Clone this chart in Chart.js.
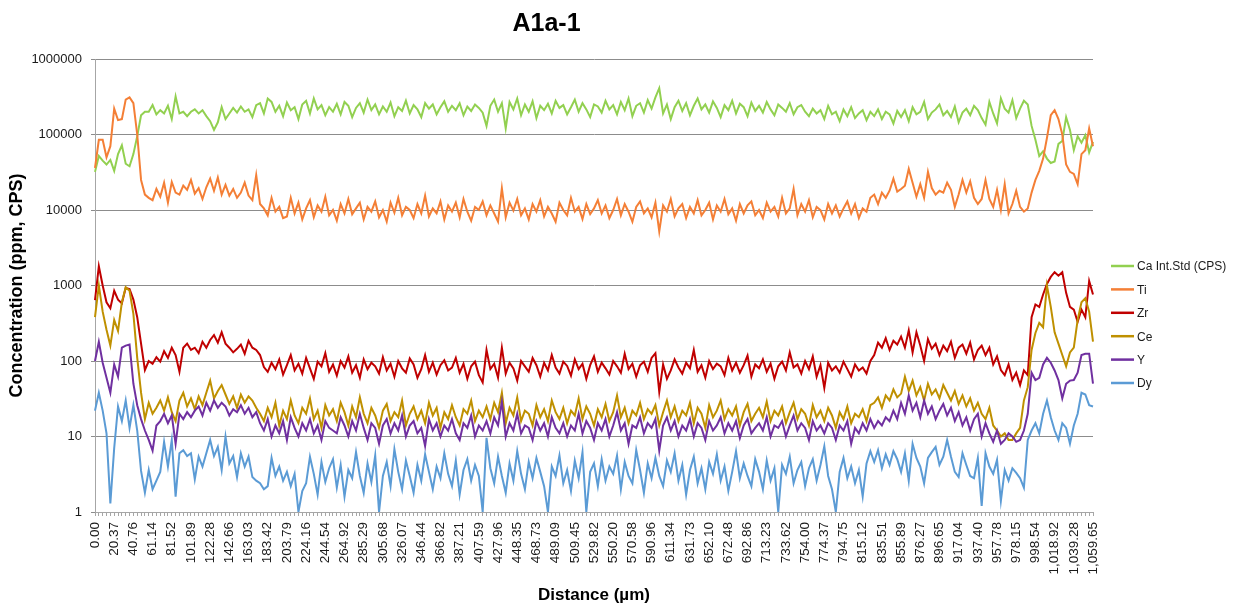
<!DOCTYPE html>
<html>
<head>
<meta charset="utf-8">
<title>A1a-1</title>
<script src="https://cdn.jsdelivr.net/npm/chart.js@4.4.1/dist/chart.umd.min.js"></script>
<style>
  html, body { margin: 0; padding: 0; background: #fff; }
  #chart { display: block; }
</style>
</head>
<body>
<canvas id="chart" width="1234" height="608"></canvas>
<script>
// distance labels (µm) shown on the x axis, one every 5 samples
const tickLabels = ['0.00', '20.37', '40.76', '61.14', '81.52', '101.89', '122.28', '142.66', '163.03', '183.42',
  '203.79', '224.16', '244.54', '264.92', '285.29', '305.68', '326.07', '346.44', '366.82', '387.21',
  '407.59', '427.96', '448.35', '468.73', '489.09', '509.45', '529.82', '550.20', '570.58', '590.96',
  '611.34', '631.73', '652.10', '672.48', '692.86', '713.23', '733.62', '754.00', '774.37', '794.75',
  '815.12', '835.51', '855.89', '876.27', '896.65', '917.04', '937.40', '957.78', '978.15', '998.54',
  '1,018.92', '1,039.28', '1,059.65'];

const yTicks = [1, 10, 100, 1000, 10000, 100000, 1000000];

// Ca internal standard (CPS)
const caStd = [
  32000, 52000, 45000, 40000, 46000, 33000, 55000, 72000, 41000, 38000, 55000, 95000, 180000, 200000,
  200000, 245000, 185000, 210000, 190000, 240000, 160000, 320000, 190000, 200000, 175000, 200000, 215000, 190000, 210000,
  175000, 150000, 115000, 145000, 230000, 160000, 190000, 225000, 195000, 235000, 200000, 215000, 170000, 245000,
  260000, 190000, 300000, 270000, 200000, 240000, 175000, 265000, 210000, 230000,
  160000, 250000, 280000, 190000, 300000, 215000, 245000, 180000, 230000, 200000,
  255000, 185000, 270000, 240000, 170000, 225000, 260000, 195000, 290000, 210000,
  250000, 185000, 235000, 200000, 265000, 175000, 230000, 205000, 280000, 190000,
  245000, 215000, 170000, 260000, 220000, 250000, 185000, 230000, 275000, 200000,
  240000, 210000, 260000, 180000, 235000, 205000, 250000, 225000, 195000, 130000,
  240000, 290000, 200000, 260000, 120000, 270000, 215000, 300000, 180000, 250000,
  200000, 275000, 165000, 240000, 210000, 255000, 190000, 280000, 225000, 245000,
  185000, 230000, 290000, 200000, 260000, 215000, 170000, 250000, 235000, 195000,
  280000, 215000, 245000, 185000, 270000, 210000, 300000, 175000, 240000, 260000,
  195000, 285000, 220000, 310000, 410000, 190000, 250000, 160000, 230000, 280000,
  205000, 260000, 180000, 240000, 300000, 215000, 250000, 195000, 275000, 225000,
  170000, 245000, 210000, 280000, 190000, 255000, 230000, 175000, 265000, 205000,
  240000, 195000, 270000, 215000, 180000, 250000, 225000, 200000, 260000, 185000,
  230000, 245000, 200000, 175000, 220000, 190000, 210000, 160000, 240000, 185000,
  200000, 150000, 215000, 175000, 230000, 165000, 190000, 210000, 155000, 200000,
  175000, 215000, 160000, 200000, 185000, 140000, 205000, 170000, 210000, 150000,
  230000, 185000, 200000, 270000, 160000, 195000, 215000, 250000, 180000, 205000,
  170000, 235000, 145000, 195000, 220000, 180000, 240000, 210000, 165000, 135000,
  270000, 190000, 140000, 300000, 220000, 195000, 285000, 165000,
  220000, 280000, 250000, 130000, 85000, 52000, 60000, 48000, 42000, 44000,
  75000, 82000, 170000, 115000, 62000, 95000, 78000, 98000, 58000, 80000
];

// Ti (ppm)
const ti = [
  36000, 85000, 85000, 50000, 70000, 220000, 155000, 160000, 290000, 310000, 260000, 100000, 25000, 16000,
  14500, 13500, 19000, 15000, 23000, 12500, 23500, 17000, 16000, 21000, 18500, 25000, 16500, 19500, 14000,
  20000, 26000, 18000, 27000, 16000, 21500, 15500, 19000, 14500, 17000, 23000, 15500, 13500, 29000,
  12000, 10500, 8500, 14500, 9500, 11000, 7800, 8200, 14500, 9000,
  12500, 7500, 10500, 13500, 8000, 11500, 9500, 15000, 8500, 10000,
  7200, 12000, 9000, 14000, 8800, 10500, 12500, 7500, 11000, 9500,
  13000, 8000, 10000, 7000, 12500, 9200, 14500, 8500, 11000, 10000,
  7800, 12000, 9000, 15500, 8200, 10500, 9000, 13000, 7500, 11500,
  9500, 12500, 8000, 14000, 9500, 7200, 11000, 10000, 13000, 8500,
  11500, 9000, 7000, 19500, 8000, 12500, 9800, 14000, 8500, 10500,
  7500, 12000, 9500, 13500, 8200, 11000, 9000, 7000, 12500, 10000,
  8500, 14500, 9500, 11000, 7600, 12000, 8800, 10500, 13500, 9000,
  11500, 7800, 10000, 14000, 8500, 12000, 9500, 7000, 11000, 13000,
  9000, 10500, 8000, 12500, 5200, 11500, 9500, 14000, 8200, 10500,
  12000, 7800, 11000, 9000, 13500, 8500, 10000, 12500, 7500, 11500,
  9500, 14000, 8800, 10500, 7200, 12000, 9000, 11500, 13000, 8500,
  10000, 7800, 12500, 9500, 11000, 8200, 14500, 9000, 10500, 19000,
  8500, 12000, 9500, 13500, 8000, 11000, 10000, 7500, 12000, 9000,
  11500, 8200, 10500, 13000, 9000, 12000, 7800, 10500, 9500, 14500,
  16000, 12000, 17000, 14500, 18000, 26000, 17500, 19000, 21000, 35000,
  23000, 15000, 22000, 14500, 32000, 19500, 16000, 18000, 17000, 23000,
  18500, 11000, 16000, 25000, 17000, 24000, 14500, 12000, 14000, 25000,
  14000, 11000, 18500, 10000, 22000, 9000, 12000, 18000,
  11000, 9500, 10500, 17000, 25000, 33000, 48000, 90000, 180000, 210000,
  160000, 100000, 40000, 32000, 30000, 22000, 55000, 62000, 120000, 70000
];

// Zr (ppm)
const zr = [
  640, 1800, 1000, 600, 500, 850, 650, 580, 930, 900, 650, 380, 170, 76,
  100, 92, 112, 98, 135, 110, 150, 120, 72, 150, 170, 140, 150, 127, 180,
  150, 190, 220, 175, 240, 170, 150, 130, 145, 165, 125, 185, 150, 140,
  120, 83, 72, 95, 78, 105, 66, 88, 120, 75,
  92, 68, 110, 80, 58, 98, 85, 127, 72, 90,
  64, 100, 82, 115, 70, 88, 60, 105, 78, 95,
  85, 68, 112, 75, 92, 62, 100, 80, 70, 108,
  90, 60, 78, 120, 72, 95, 66, 88, 102, 75,
  82, 110, 70, 92, 58, 85, 98, 65, 52, 140,
  78, 92, 60, 150, 68, 95, 80, 55, 100, 85,
  72, 110, 88, 62, 95, 75, 120, 82, 68, 98,
  86, 64, 105, 78, 92, 58, 88, 115, 72, 95,
  80, 66, 100, 85, 70, 125, 78, 92, 62, 88,
  98, 72, 110, 127, 39, 90, 58, 75, 105, 82,
  68, 95, 80, 140, 72, 88, 60, 100, 78, 92,
  85, 65, 110, 75, 95, 70, 88, 118, 62, 90,
  80, 105, 72, 92, 58, 85, 98, 75, 130, 82,
  90, 68, 100, 78, 115, 62, 88, 44, 95, 75,
  85, 70, 98, 78, 62, 90, 75, 82, 68, 100,
  120, 175, 150, 200, 140, 185, 165, 210, 150, 255,
  130, 240, 160, 100, 195, 145, 170, 120, 160, 135,
  180, 110, 150, 165, 125, 175, 105, 140, 160, 120,
  150, 90, 115, 76, 65, 90, 56, 70,
  48, 75, 65, 380, 560, 520, 760, 1050, 1300, 1500,
  1350, 1500, 800, 520, 480, 330, 480, 380, 1150, 760
];

// Ce (ppm)
const ce = [
  380, 1000, 450, 260, 160, 350, 250, 600, 950, 850, 420, 110, 38, 17,
  28, 20, 24, 30, 22, 33, 21, 16, 30, 38, 25, 32, 23, 34, 26,
  38, 55, 32, 40, 48, 36, 27, 34, 24, 36, 28, 34, 30, 24,
  20, 16, 24, 18, 28, 14, 22, 17, 30, 19,
  15, 24, 20, 32, 17, 22, 13, 26, 19, 23,
  16, 28, 21, 14, 25, 18, 33, 20, 15, 24,
  19, 13, 22, 27, 16, 21, 18, 30, 14, 20,
  25, 17, 22, 15, 28, 19, 24, 13, 21, 17,
  26, 18, 14, 23, 20, 30, 16, 22, 18, 25,
  17, 28, 21, 38, 15, 24, 19, 33, 16, 22,
  20, 14, 26, 18, 23, 16, 30, 21, 17, 24,
  15, 22, 19, 32, 17, 25, 20, 14, 23, 18,
  27, 16, 21, 35, 18, 24, 15, 22, 19, 28,
  17, 23, 20, 26, 14, 21, 30, 18, 25, 16,
  22, 19, 28, 15, 24, 20, 13, 26, 18, 22,
  30, 17, 23, 19, 25, 14, 21, 27, 16, 20,
  24, 18, 29, 16, 22, 19, 25, 15, 21, 28,
  17, 23, 20, 14, 26, 18, 22, 16, 24, 19,
  13, 21, 17, 25, 15, 20, 18, 23, 16, 26,
  28, 33, 24, 35, 30, 42, 33, 37, 62, 40,
  55, 35, 45, 30, 50, 36, 42, 32, 48, 38,
  30, 40, 27, 35, 25, 32, 22, 28, 20, 17,
  24, 14, 12, 10, 11, 9, 9, 11,
  13, 30, 45, 140, 235, 320, 280, 1000, 520, 240,
  170, 120, 85, 130, 150, 350, 600, 680, 450, 180
];

// Y (ppm)
const yttrium = [
  100, 180, 95, 60, 38, 90, 62, 150, 160, 165, 50, 26, 17, 12,
  9, 6.5, 14, 16, 20, 15, 19, 8, 20, 17, 21, 18, 22, 25, 19,
  28, 22, 30, 24, 28, 25, 19, 23, 21, 26, 20, 24, 18, 21,
  15, 12, 17, 10, 14, 11, 16, 9, 18, 13,
  10, 15, 12, 17, 11, 14, 9, 16, 13, 12,
  11, 18, 14, 10, 16, 12, 20, 13, 9, 15,
  13, 8, 14, 17, 11, 15, 12, 19, 10, 14,
  16, 11, 13, 7.5, 17, 12, 15, 10, 14, 12,
  17, 11, 9, 15, 13, 19, 10, 14, 12, 16,
  11, 18, 14, 29, 10, 15, 12, 20, 11, 14,
  13, 9, 16, 12, 15, 10, 18, 13, 11, 15,
  10, 14, 12, 20, 11, 16, 13, 9, 15, 12,
  17, 10, 14, 21, 12, 15, 8, 14, 13, 18,
  11, 15, 13, 17, 6.5, 14, 18, 12, 16, 10,
  14, 12, 17, 10, 15, 13, 9, 16, 12, 14,
  18, 11, 15, 12, 16, 9.5, 14, 17, 11, 13,
  15, 12, 18, 10, 14, 13, 16, 10, 14, 19,
  12, 15, 13, 9, 16, 12, 14, 11, 15, 13,
  9, 14, 12, 16, 8, 13, 11, 15, 12, 17,
  13, 16, 14, 18, 16, 22, 17, 28, 20, 35,
  22, 28, 18, 30, 20, 25, 17, 22, 27, 19,
  24, 16, 21, 14, 18, 12, 17, 20, 10, 15,
  11, 8.5, 12, 8, 9, 11, 10, 8.5,
  9, 12, 20, 70, 56, 60, 90, 110, 95, 75,
  56, 32, 50, 55, 56, 70, 120, 125, 125, 50
];

// Dy (ppm)
const dy = [
  22, 38, 22, 11, 1.3, 7, 25, 16, 30, 13, 26, 12, 3.5, 1.8,
  3.6, 2.0, 2.6, 3.4, 8.5, 4.0, 9.0, 1.6, 6.0, 6.6, 5.5, 6.0, 2.7, 5.4, 4.0,
  6.0, 9.0, 5.5, 7.3, 3.6, 10, 4.4, 5.5, 2.9, 6.0, 4.0, 5.4, 2.9, 2.6,
  2.4, 2.0, 2.2, 5.2, 3.0, 4.0, 2.6, 3.4, 2.2, 3.2,
  1.0, 1.9, 2.4, 5.4, 3.2, 1.7, 4.6, 2.5, 3.8, 5.0,
  2.1, 4.2, 1.6, 3.6, 2.8, 6.2, 3.0, 1.8, 4.4, 2.5,
  5.6, 1.0, 3.0, 4.6, 2.2, 6.8, 3.4, 2.0, 4.8, 3.0,
  1.8, 4.2, 2.6, 5.8, 3.4, 2.0, 4.0, 2.8, 6.0, 3.2,
  2.2, 4.8, 1.7, 3.6, 5.0, 2.6, 4.2, 3.0, 1.0, 9.6,
  3.8, 2.4, 5.4, 3.0, 1.8, 4.4, 2.6, 6.4, 3.2, 2.0,
  4.6, 2.8, 5.2, 3.4, 2.2, 1.0, 4.0, 3.0, 5.6, 2.4,
  3.6, 1.9, 4.8, 2.8, 6.2, 1.0, 3.4, 4.4, 2.2, 5.0,
  2.6, 4.0, 3.2, 5.6, 2.0, 4.6, 3.0, 2.4, 6.6, 3.6,
  1.8, 4.4, 2.8, 5.2, 3.0, 2.2, 4.8, 3.4, 6.0, 2.6,
  4.2, 1.7, 3.6, 5.4, 2.4, 3.8, 2.0, 4.6, 3.2, 5.8,
  2.6, 4.0, 1.9, 3.4, 6.4, 2.8, 4.4, 3.0, 2.2, 5.0,
  3.4, 2.0, 4.8, 2.6, 3.8, 1.0, 4.2, 3.2, 5.4, 2.4,
  3.6, 4.6, 2.2, 3.8, 5.0, 2.6, 4.2, 7.4, 3.0, 2.0,
  1.0, 3.4, 5.2, 2.8, 4.0, 2.4, 3.6, 1.6, 4.4, 6.4,
  4.6, 6.6, 3.8, 5.8, 4.2, 6.4, 5.0, 3.4, 6.0, 2.6,
  8.0, 5.2, 4.0, 2.4, 5.2, 6.2, 7.3, 4.2, 5.4, 9.0,
  5.4, 3.4, 2.9, 6.0, 4.2, 3.0, 2.8, 5.2, 1.2, 6.0,
  4.0, 3.2, 4.9, 1.4, 3.6, 2.6, 3.8, 3.3,
  2.8, 2.1, 9, 12, 15, 11, 20, 30, 18, 12,
  9, 15, 13, 8, 14, 20, 38, 36, 26, 25
];

// one category per sample; only every 5th one carries a printed distance
const distance = caStd.map((_, i) => (i % 5 === 0 ? tickLabels[i / 5] : ''));

const series = [
  { label: 'Ca Int.Std (CPS)', data: caStd, color: '#92D050' },
  { label: 'Ti', data: ti, color: '#F47F36' },
  { label: 'Zr', data: zr, color: '#C00000' },
  { label: 'Ce', data: ce, color: '#BF9000' },
  { label: 'Y', data: yttrium, color: '#7030A0' },
  { label: 'Dy', data: dy, color: '#5B9BD5' }
];

const FONT = '"Liberation Sans", Arial, sans-serif';
Chart.defaults.font.family = FONT;

// legend column on the right, line sample + name
const sideLegend = {
  id: 'sideLegend',
  afterDraw(chart) {
    const ctx = chart.ctx;
    const x0 = chart.chartArea.right + 18;
    ctx.save();
    ctx.font = '12px ' + FONT;
    ctx.textBaseline = 'middle';
    chart.data.datasets.forEach((ds, i) => {
      const y = 266 + i * 23.4;
      ctx.strokeStyle = ds.borderColor;
      ctx.lineWidth = 2.5;
      ctx.beginPath();
      ctx.moveTo(x0, y);
      ctx.lineTo(x0 + 23, y);
      ctx.stroke();
      ctx.fillStyle = '#1a1a1a';
      ctx.fillText(ds.label, x0 + 26, y + 1);
    });
    ctx.restore();
  }
};

new Chart(document.getElementById('chart'), {
  type: 'line',
  data: {
    labels: distance,
    datasets: series.map((s, i) => ({
      label: s.label,
      data: s.data,
      borderColor: s.color,
      backgroundColor: s.color,
      borderWidth: 2,
      pointRadius: 0,
      tension: 0,
      order: series.length - i // later series drawn on top
    }))
  },
  options: {
    responsive: false,
    animation: false,
    layout: { padding: { left: 0, right: 141, top: 0, bottom: 0 } },
    plugins: {
      legend: { display: false },
      tooltip: { enabled: false },
      title: {
        display: true,
        text: 'A1a-1',
        color: '#000',
        font: { size: 25, weight: 'bold' },
        padding: { top: 9, bottom: 20 }
      }
    },
    scales: {
      x: {
        type: 'category',
        offset: false,
        grid: { drawOnChartArea: false, drawTicks: true, tickLength: 4, color: '#a6a6a6' },
        border: { color: '#a6a6a6' },
        ticks: { autoSkip: false, minRotation: 90, maxRotation: 90, padding: 6, color: '#1a1a1a', font: { size: 13.5 } },
        title: {
          display: true,
          text: 'Distance (µm)',
          color: '#000',
          font: { size: 17, weight: 'bold' },
          padding: { top: 0, bottom: 2 }
        },
        afterFit(scale) { scale.height = 96; }
      },
      y: {
        type: 'logarithmic',
        min: 1,
        max: 1000000,
        afterBuildTicks(scale) { scale.ticks = yTicks.map(v => ({ value: v })); },
        grid: { color: '#8c8c8c', tickLength: 4 },
        border: { color: '#a6a6a6' },
        ticks: { callback: v => String(v), padding: 9, color: '#1a1a1a', font: { size: 13 } },
        title: {
          display: true,
          text: 'Concentration (ppm, CPS)',
          color: '#000',
          font: { size: 18, weight: 'bold' },
          padding: { top: 6, bottom: 0 }
        },
        afterFit(scale) { scale.width = 95; }
      }
    }
  },
  plugins: [sideLegend]
});
</script>
</body>
</html>
